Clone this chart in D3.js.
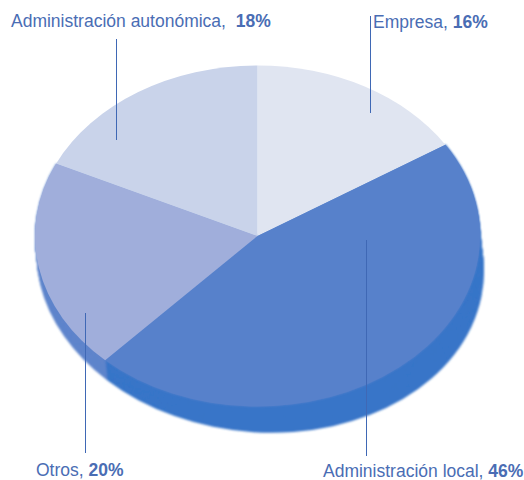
<!DOCTYPE html>
<html>
<head>
<meta charset="utf-8">
<script src="https://cdn.jsdelivr.net/npm/d3@7"></script>
<style>
  html, body { margin: 0; background: #fff; }
  text { font-family: "Liberation Sans", Arial, sans-serif; font-size: 17.5px; fill: #4a6db4; }
</style>
</head>
<body>
<div id="chart"></div>
<script>
// Values, clockwise from the top
const categories = ['Empresa', 'Administración local', 'Otros', 'Administración autonómica'];
const shares = [16, 46, 20, 18];

const topColors = ['#e0e5f1', '#5781cb', '#a0aedb', '#c9d3ea'];
const sideColors = ['#e0e5f1', '#3875c8', '#5f85cc', '#c9d3ea'];

// Leader line and label placement, same order as categories
const labelX = [373, 323, 36, 11];
const labelY = [28, 477, 476, 27];
const labelGap = [' ', ' ', ' ', '  '];
const leaderX = [370.5, 366.5, 85.5, 116.5];
const leaderY1 = [16, 240, 313, 39];
const leaderY2 = [113, 456, 453, 140];

const width = 524, height = 480;
const cx = 257.5, cy = 236, rx = 222.5, ry = 170.5;

// The base of the pie is not straight below the top: it drops more on the right
const depth = 26, shiftX = 2.75, growX = 1.25, shear = 0.04;

const svg = d3.select('#chart').append('svg')
    .attr('width', width)
    .attr('height', height)
    .style('display', 'block');

const blur = svg.append('defs').append('filter')
    .attr('id', 'soft')
    .attr('x', '-5%').attr('y', '-5%')
    .attr('width', '110%').attr('height', '110%');
blur.append('feGaussianBlur').attr('stdDeviation', 1.1);

const slices = d3.pie().sort(null).value(d => d)(shares);
const arc = d3.arc().innerRadius(0).outerRadius(rx);
const front = slices.filter(s => s.index === 1 || s.index === 2);

// Side of the pie: stacked copies, only the two front wedges show
const side = svg.append('g').attr('filter', 'url(#soft)');
d3.range(depth, -1, -1).forEach(d => {
    const t = d / depth;
    const a = 1 + t * growX / rx;
    side.append('g')
        .attr('transform', `matrix(${a},${t * shear},0,${ry / rx},${cx + t * shiftX},${cy + d})`)
        .selectAll('path')
        .data(front)
        .join('path')
        .attr('d', arc)
        .attr('fill', s => sideColors[s.index]);
});

// Soft rim of the big wedge
svg.append('g')
    .attr('filter', 'url(#soft)')
    .attr('transform', `translate(${cx},${cy}) scale(1,${ry / rx})`)
    .append('path')
    .datum(slices[1])
    .attr('d', arc)
    .attr('fill', topColors[1]);

// Top face
svg.append('g')
    .attr('transform', `translate(${cx},${cy}) scale(1,${ry / rx})`)
    .selectAll('path')
    .data(slices)
    .join('path')
    .attr('d', arc)
    .attr('fill', s => topColors[s.index]);

// Leaders
svg.append('g')
    .selectAll('line')
    .data(categories)
    .join('line')
    .attr('x1', (d, i) => leaderX[i])
    .attr('x2', (d, i) => leaderX[i])
    .attr('y1', (d, i) => leaderY1[i])
    .attr('y2', (d, i) => leaderY2[i])
    .attr('stroke', '#3f68b5')
    .attr('stroke-width', 1);

// Labels
const labels = svg.append('g')
    .selectAll('text')
    .data(categories)
    .join('text')
    .attr('x', (d, i) => labelX[i])
    .attr('y', (d, i) => labelY[i])
    .attr('xml:space', 'preserve');
labels.append('tspan').text((d, i) => d + ',' + labelGap[i]);
labels.append('tspan')
    .attr('font-weight', 'bold')
    .text((d, i) => shares[i] + '%');
</script>
</body>
</html>
